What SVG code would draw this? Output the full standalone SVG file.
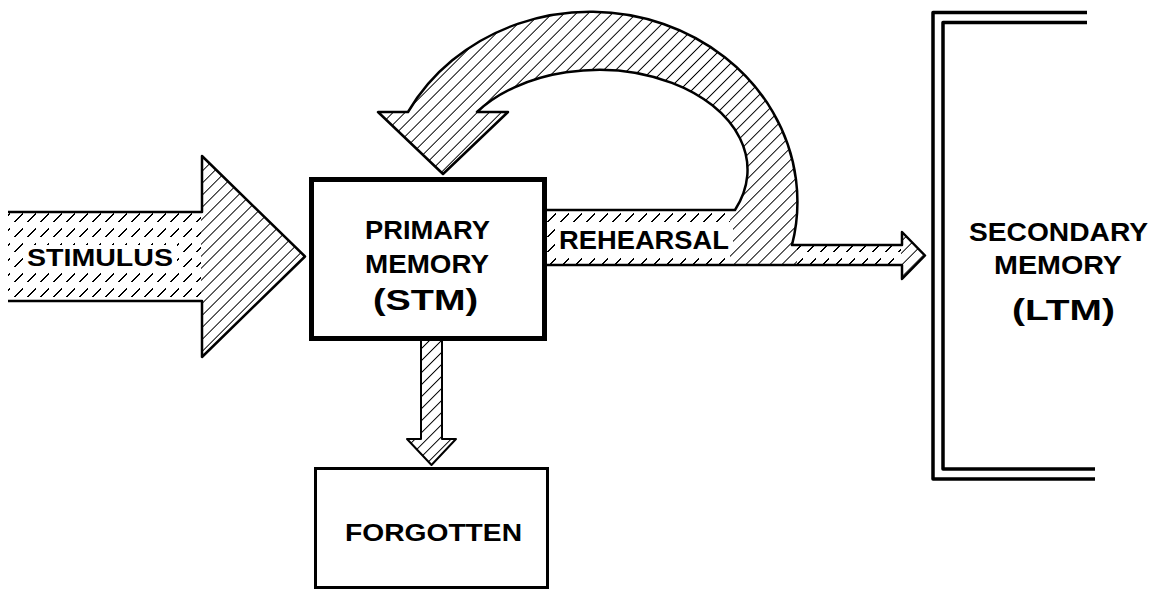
<svg xmlns="http://www.w3.org/2000/svg" width="1165" height="592" viewBox="0 0 1165 592">
<defs>
<pattern id="hatch" width="8.5" height="10" patternUnits="userSpaceOnUse" patternTransform="rotate(45)">
<line x1="0" y1="0" x2="0" y2="10" stroke="#000" stroke-width="1.4" shape-rendering="crispEdges"/>
</pattern>
<pattern id="dash" width="13" height="15" patternUnits="userSpaceOnUse">
<line x1="2" y1="12" x2="10" y2="3" stroke="#000" stroke-width="1.4" shape-rendering="crispEdges"/>
</pattern>
</defs>
<style>
.lbl{font-family:"Liberation Sans",Arial,sans-serif;font-weight:bold;fill:#000}
.edge{fill:none;stroke:#000;stroke-width:2.5;stroke-linejoin:round}
.box{fill:#fff;stroke:#000}
.ko{fill:#fff}
</style>
<rect width="1165" height="592" fill="#fff"/>
<g id="connectors">
<g id="stimulus-arrow">
<path d="M8,212 L202,212 L202,156 L305,256.5 L202,357 L202,301 L8,301 Z" fill="url(#hatch)"/>
<rect x="8" y="213" width="193" height="87" fill="#fff"/>
<rect x="8" y="213" width="193" height="87" fill="url(#dash)"/>
<rect class="ko" x="23" y="245" width="154" height="25"/>
<path class="edge" d="M8,212 L202,212 L202,156 L305,256.5 L202,357 L202,301 L8,301"/>
<text class="lbl" x="27" y="266" font-size="24" textLength="146" lengthAdjust="spacingAndGlyphs">STIMULUS</text>
</g>
<g id="rehearsal-arrow">
<path d="M547,210 L735,210 A149,100 0 0 0 477,112 L508,112 L443,174 L378,112 L408,112 A207,190 0 0 1 792,245 L902,245 L902,232 L925,255.5 L902,279 L902,265 L547,265 Z" fill="url(#hatch)"/>
<rect x="547" y="211" width="183" height="53" fill="#fff"/>
<rect x="547" y="211" width="183" height="53" fill="url(#dash)"/>
<rect x="797" y="246" width="104" height="18" fill="#fff"/>
<rect x="797" y="246" width="104" height="18" fill="url(#dash)"/>
<rect class="ko" x="555" y="227" width="178" height="26"/>
<path class="edge" d="M547,210 L735,210 A149,100 0 0 0 477,112 L508,112 L443,174 L378,112 L408,112 A207,190 0 0 1 792,245 L902,245 L902,232 L925,255.5 L902,279 L902,265 L547,265"/>
<text class="lbl" x="559" y="249" font-size="25" textLength="170" lengthAdjust="spacingAndGlyphs">REHEARSAL</text>
</g>
<g id="forget-arrow">
<path d="M421,341 L421,439 L407,439 L431.5,465 L456,439 L442,439 L442,341" fill="url(#hatch)" stroke="#000" stroke-width="2" stroke-linejoin="round"/>
</g>
</g>
<g id="primary-memory">
<rect class="box" x="311.5" y="179.5" width="233" height="159" stroke-width="5"/>
<text class="lbl" x="365" y="239" font-size="25" textLength="125" lengthAdjust="spacingAndGlyphs">PRIMARY</text>
<text class="lbl" x="365" y="273" font-size="25" textLength="124" lengthAdjust="spacingAndGlyphs">MEMORY</text>
<text class="lbl" x="373" y="310" font-size="29" textLength="105" lengthAdjust="spacingAndGlyphs">(STM)</text>
</g>
<g id="forgotten">
<rect class="box" x="315.5" y="468.5" width="232" height="119" stroke-width="3"/>
<text class="lbl" x="345" y="541" font-size="24" textLength="177" lengthAdjust="spacingAndGlyphs">FORGOTTEN</text>
</g>
<g id="secondary-memory">
<path d="M1087,12.5 L933,12.5 L933,479 L1095,479" fill="none" stroke="#000" stroke-width="3.5" stroke-linejoin="round"/>
<path d="M1087,22.5 L943,22.5 L943,469 L1095,469" fill="none" stroke="#000" stroke-width="3.5" stroke-linejoin="round"/>
<text class="lbl" x="969" y="241" font-size="25" textLength="179" lengthAdjust="spacingAndGlyphs">SECONDARY</text>
<text class="lbl" x="994" y="274" font-size="25" textLength="128" lengthAdjust="spacingAndGlyphs">MEMORY</text>
<text class="lbl" x="1012" y="320" font-size="30" textLength="103" lengthAdjust="spacingAndGlyphs">(LTM)</text>
</g>
</svg>
